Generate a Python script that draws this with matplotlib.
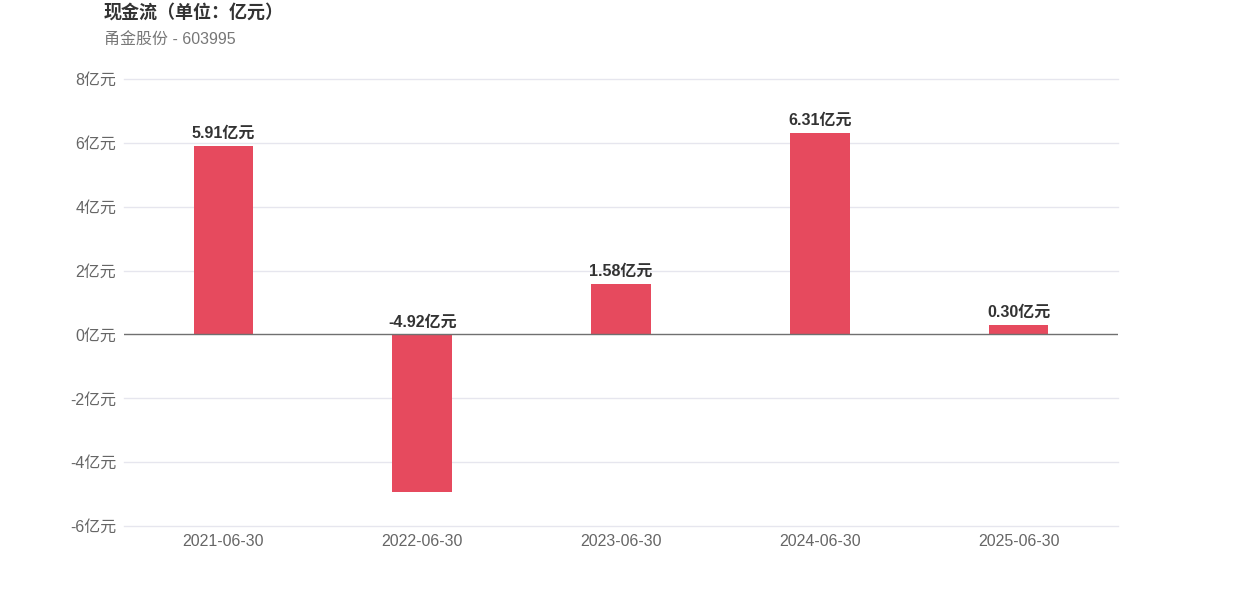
import matplotlib.pyplot as plt

plt.rcParams['font.family'] = ['Liberation Sans', 'Noto Sans CJK SC', 'DejaVu Sans']

dates = ['2021-06-30', '2022-06-30', '2023-06-30', '2024-06-30', '2025-06-30']
cash_flow = [5.91, -4.92, 1.58, 6.31, 0.30]
y_ticks = [-6, -4, -2, 0, 2, 4, 6, 8]

fig = plt.figure(figsize=(12.42, 5.96), dpi=100)
ax = fig.add_axes([124 / 1242, 1 - 526 / 596, 994 / 1242, 447 / 596])

x = range(len(dates))
ax.bar(x, cash_flow, width=0.3, color='#e64a5e', zorder=3)

for i, v in enumerate(cash_flow):
    base = v if v >= 0 else 0
    ax.text(i, base + 0.15, f'{v:.2f}亿元', ha='center', va='bottom',
            fontsize=11.5, fontweight='bold', color='#333333')

ax.set_xlim(-0.5, len(dates) - 0.5)
ax.set_ylim(-6, 8)
ax.set_yticks(y_ticks)
ax.set_yticklabels([f'{t}亿元' for t in y_ticks])
ax.set_xticks(list(x))
ax.set_xticklabels(dates)
ax.tick_params(axis='both', length=0, labelsize=11.5, labelcolor='#666666')
ax.tick_params(axis='y', pad=5.5)
ax.tick_params(axis='x', pad=6)

# grid lines drawn by hand so the edge ones are not clipped
for t in y_ticks:
    if t != 0:
        ax.axhline(t, color='#e6e6ee', linewidth=1, zorder=0, clip_on=False)
ax.axhline(0, color='#707070', linewidth=1, zorder=4)
for s in ax.spines.values():
    s.set_visible(False)

fig.text(104 / 1242, 1 - 13 / 596, '现金流（单位：亿元）', fontsize=13, fontweight='bold',
         color='#333333', va='center', ha='left')
fig.text(104 / 1242, 1 - 40 / 596, '甬金股份 - 603995', fontsize=11.5,
         color='#777777', va='center', ha='left')

fig.savefig('out.png', dpi=100)
